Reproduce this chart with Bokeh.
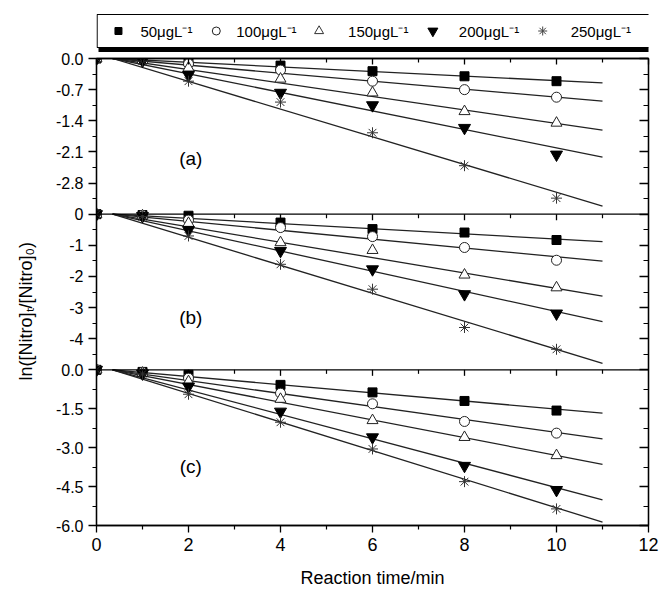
import math
from bokeh.plotting import figure
from bokeh.models import Range1d, LinearAxis, FixedTicker, Span, Title, CustomJSTickFormatter
from bokeh.layouts import column
from bokeh.embed import file_html
from bokeh.resources import INLINE
from bokeh.core.properties import value

# ---------------- data ----------------
t = [0, 1, 2, 4, 6, 8, 10]
series_labels = ["50μgL⁻¹", "100μgL⁻¹", "150μgL⁻¹", "200μgL⁻¹", "250μgL⁻¹"]

a_50 = [0, -0.02, -0.06, -0.16, -0.285, -0.40, -0.51]
a_100 = [0, -0.03, -0.12, -0.26, -0.51, -0.70, -0.87]
a_150 = [0, -0.04, -0.21, -0.46, -0.77, -1.19, -1.45]
a_200 = [0, -0.05, -0.37, -0.77, -1.05, -1.56, -2.16]
a_250 = [0, -0.06, -0.51, -0.98, -1.67, -2.41, -3.14]

b_50 = [0, -0.03, -0.05, -0.27, -0.48, -0.59, -0.83]
b_100 = [0, -0.04, -0.19, -0.43, -0.72, -1.07, -1.48]
b_150 = [0, -0.05, -0.29, -0.91, -1.16, -1.95, -2.36]
b_200 = [0, -0.06, -0.51, -1.18, -1.77, -2.57, -3.19]
b_250 = [0, -0.08, -0.70, -1.61, -2.41, -3.64, -4.34]

c_50 = [0, -0.08, -0.19, -0.58, -0.87, -1.20, -1.57]
c_100 = [0, -0.10, -0.32, -0.90, -1.31, -1.99, -2.44]
c_150 = [0, -0.12, -0.45, -1.13, -1.95, -2.60, -3.30]
c_200 = [0, -0.14, -0.64, -1.61, -2.60, -3.70, -4.63]
c_250 = [0, -0.16, -0.94, -2.02, -3.05, -4.31, -5.36]

# fitted lines: from (fit_x[0], 0) to (fit_x[1], end value)
fit_x = [0.35, 11]
a_fit_end = [-0.55, -0.96, -1.61, -2.22, -3.32]
b_fit_end = [-0.88, -1.51, -2.63, -3.45, -4.79]
c_fit_end = [-1.67, -2.66, -3.64, -5.01, -5.87]

panel_names = ["a", "b", "c"]
panel_tags = ["(a)", "(b)", "(c)"]
panel_lo = [-3.5, -5.0, -6.0]
panel_hi = [0.0, 0.0, 0.0]
panel_series = [[a_50, a_100, a_150, a_200, a_250],
                [b_50, b_100, b_150, b_200, b_250],
                [c_50, c_100, c_150, c_200, c_250]]
panel_fit_end = [a_fit_end, b_fit_end, c_fit_end]

a_ticks = [0.0, -0.7, -1.4, -2.1, -2.8]
a_tick_labels = ["0.0", "-0.7", "-1.4", "-2.1", "-2.8"]
a_minor = [-0.35, -1.05, -1.75, -2.45, -3.15]
b_ticks = [0, -1, -2, -3, -4]
b_tick_labels = ["0", "-1", "-2", "-3", "-4"]
b_minor = [-0.5, -1.5, -2.5, -3.5, -4.5]
c_ticks = [0.0, -1.5, -3.0, -4.5, -6.0]
c_tick_labels = ["0.0", "-1.5", "-3.0", "-4.5", "-6.0"]
c_minor = [-0.75, -2.25, -3.75, -5.25]
panel_ticks = [a_ticks, b_ticks, c_ticks]
panel_tick_labels = [a_tick_labels, b_tick_labels, c_tick_labels]
panel_minor = [a_minor, b_minor, c_minor]

tag_x = [2.05, 2.05, 2.05]
tag_y = [-2.24, -3.32, -3.72]

x_ticks = [0, 2, 4, 6, 8, 10, 12]
x_minor = [1, 3, 5, 7, 9, 11]

x_title = "Reaction time/min"
y_title = "ln([Nitro]ₜ/[Nitro]₀)"

# ---------------- styles ----------------
FONT = "Liberation Sans"
styles = [
    dict(marker="square", size=9, fill_color="black", line_color="black"),
    dict(marker="circle", size=10, fill_color="white", line_color="#222222", line_width=1),
    dict(marker="triangle", size=11, fill_color="white", line_color="#222222", line_width=1),
    dict(marker="inverted_triangle", size=12, fill_color="black", line_color="black"),
    dict(marker="asterisk", size=11, line_color="#333333", line_width=1),
]
legend_styles = [
    dict(marker="square", size=7, fill_color="black", line_color="black"),
    dict(marker="circle", size=8, fill_color="white", line_color="#222222", line_width=1),
    dict(marker="triangle", size=9, fill_color="white", line_color="#333333", line_width=1),
    dict(marker="inverted_triangle", size=10, fill_color="black", line_color="black"),
    dict(marker="asterisk", size=9, line_color="#444444", line_width=1),
]

W = 664
FRAME_L, FRAME_R = 95, 648
FRAME_H = 467
N = len(panel_names)
blank = CustomJSTickFormatter(code="return ''")

# ---------------- legend strip (frame aligned with the main plot) ----------------
LH = 52
L = figure(width=W, height=LH, x_range=Range1d(FRAME_L, FRAME_R), y_range=Range1d(0, LH),
           output_backend="svg", toolbar_location=None,
           x_axis_location=None, y_axis_location=None,
           min_border_left=FRAME_L, min_border_right=W - FRAME_R,
           min_border_top=0, min_border_bottom=0)
L.grid.visible = False
L.outline_line_color = None
L.quad(left=[97], right=[720], top=[5], bottom=[-6], fill_color="black", line_color=None)
L.quad(left=[95.6], right=[720], top=[38], bottom=[5], fill_color="white",
       line_color="black", line_width=1.2)
leg_marker_x = [117, 215, 318, 432, 542]
leg_text_x = [139, 235, 347, 458, 570]
leg_y = 21.5
for j, lab in enumerate(series_labels):
    L.scatter([leg_marker_x[j]], [leg_y], **legend_styles[j])
    L.text([leg_text_x[j]], [leg_y], text=[lab], text_font=value(FONT),
           text_font_size="15px", text_align="left", text_baseline="middle",
           text_color="black")

# ---------------- main figure ----------------
MH = 592 - LH
p = figure(width=W, height=MH, x_range=Range1d(0, 12), y_range=Range1d(0, N),
           output_backend="svg", toolbar_location=None,
           min_border_left=FRAME_L, min_border_right=W - FRAME_R,
           min_border_top=6, min_border_bottom=MH - 6 - FRAME_H)
p.grid.visible = False
p.outline_line_color = "black"
p.outline_line_width = 1.3
p.background_fill_color = "white"

extra = {}
for k, name in enumerate(panel_names):
    lo, hi = panel_lo[k], panel_hi[k]
    span = hi - lo
    extra[name] = Range1d(start=lo - span * (N - 1 - k), end=hi + span * k)
p.extra_y_ranges = extra

# one left axis carries the three panels' tick labels
def vpos(k, v):
    lo, hi = panel_lo[k], panel_hi[k]
    return round((N - 1 - k) + (v - lo) / (hi - lo), 6)

vmajor, vminor, overrides = [], [], {}
for k in range(N):
    for v, lab in zip(panel_ticks[k], panel_tick_labels[k]):
        pos = vpos(k, v)
        vmajor.append(pos)
        overrides[pos] = lab
    for v in panel_minor[k]:
        vminor.append(vpos(k, v))

yax = p.yaxis[0]
yax.ticker = FixedTicker(ticks=vmajor, minor_ticks=vminor)
yax.major_label_overrides = overrides
yax.major_label_text_font = FONT
yax.major_label_text_font_size = "16px"
yax.major_label_text_color = "black"
yax.major_tick_in = 0
yax.major_tick_out = 8
yax.minor_tick_in = 0
yax.minor_tick_out = 4
yax.major_label_standoff = 5
yax.axis_line_width = 1.3
yax.major_tick_line_width = 1.3
yax.minor_tick_line_width = 1.2

xax = p.xaxis[0]
xax.ticker = FixedTicker(ticks=x_ticks, minor_ticks=x_minor)
xax.major_label_text_font = FONT
xax.major_label_text_font_size = "18px"
xax.major_label_text_color = "black"
xax.major_tick_in = 0
xax.major_tick_out = 7
xax.minor_tick_in = 0
xax.minor_tick_out = 4
xax.major_label_standoff = 5
xax.axis_label = x_title
xax.axis_label_text_font = FONT
xax.axis_label_text_font_size = "18px"
xax.axis_label_text_font_style = "normal"
xax.axis_label_text_color = "black"
xax.axis_label_standoff = 14
xax.axis_line_width = 1.3
xax.major_tick_line_width = 1.3
xax.minor_tick_line_width = 1.2

rax = LinearAxis(ticker=FixedTicker(ticks=vmajor, minor_ticks=vminor), formatter=blank,
                 major_label_standoff=0,
                 major_tick_in=9, major_tick_out=0, minor_tick_in=5, minor_tick_out=0,
                 axis_line_width=1.3, major_tick_line_width=1.3, minor_tick_line_width=1.2)
p.add_layout(rax, "right")
tax = LinearAxis(ticker=FixedTicker(ticks=x_ticks, minor_ticks=x_minor), formatter=blank,
                 major_label_standoff=0,
                 major_tick_in=6, major_tick_out=0, minor_tick_in=4, minor_tick_out=0,
                 axis_line_width=1.3, major_tick_line_width=1.3, minor_tick_line_width=1.2)
p.add_layout(tax, "above")

# y title as a side title, started near the bottom of panel (b)/(c)
p.add_layout(Title(text=y_title, align="left", offset=145, vertical_align="top",
                   standoff=30, text_font=FONT, text_font_size="18px",
                   text_font_style="normal", text_color="black"), "left")

# panel boundaries and their inward top ticks
major_len = 6 * N / FRAME_H
minor_len = 4 * N / FRAME_H
inner_major = [x for x in x_ticks if 0 < x < 12]
for k in range(1, N):
    b = N - k
    p.add_layout(Span(location=b, dimension="width", line_color="black", line_width=1.3))
    p.segment(x0=inner_major, y0=[b] * len(inner_major), x1=inner_major,
              y1=[b - major_len] * len(inner_major), line_color="black", line_width=1.3)
    p.segment(x0=x_minor, y0=[b] * len(x_minor), x1=x_minor,
              y1=[b - minor_len] * len(x_minor), line_color="black", line_width=1.2)

# data
for k, name in enumerate(panel_names):
    for j in range(5):
        p.line(fit_x, [panel_hi[k], panel_fit_end[k][j]], y_range_name=name,
               line_color="#222222", line_width=1.3)
    for j in range(5):
        p.scatter(t, panel_series[k][j], y_range_name=name, **styles[j])
    p.text([tag_x[k]], [tag_y[k]], text=[panel_tags[k]], y_range_name=name,
           text_font=value(FONT), text_font_size="19px", text_align="center",
           text_baseline="middle", text_color="black")

layout = column(L, p)
open("out.html", "w").write(file_html(layout, INLINE))
